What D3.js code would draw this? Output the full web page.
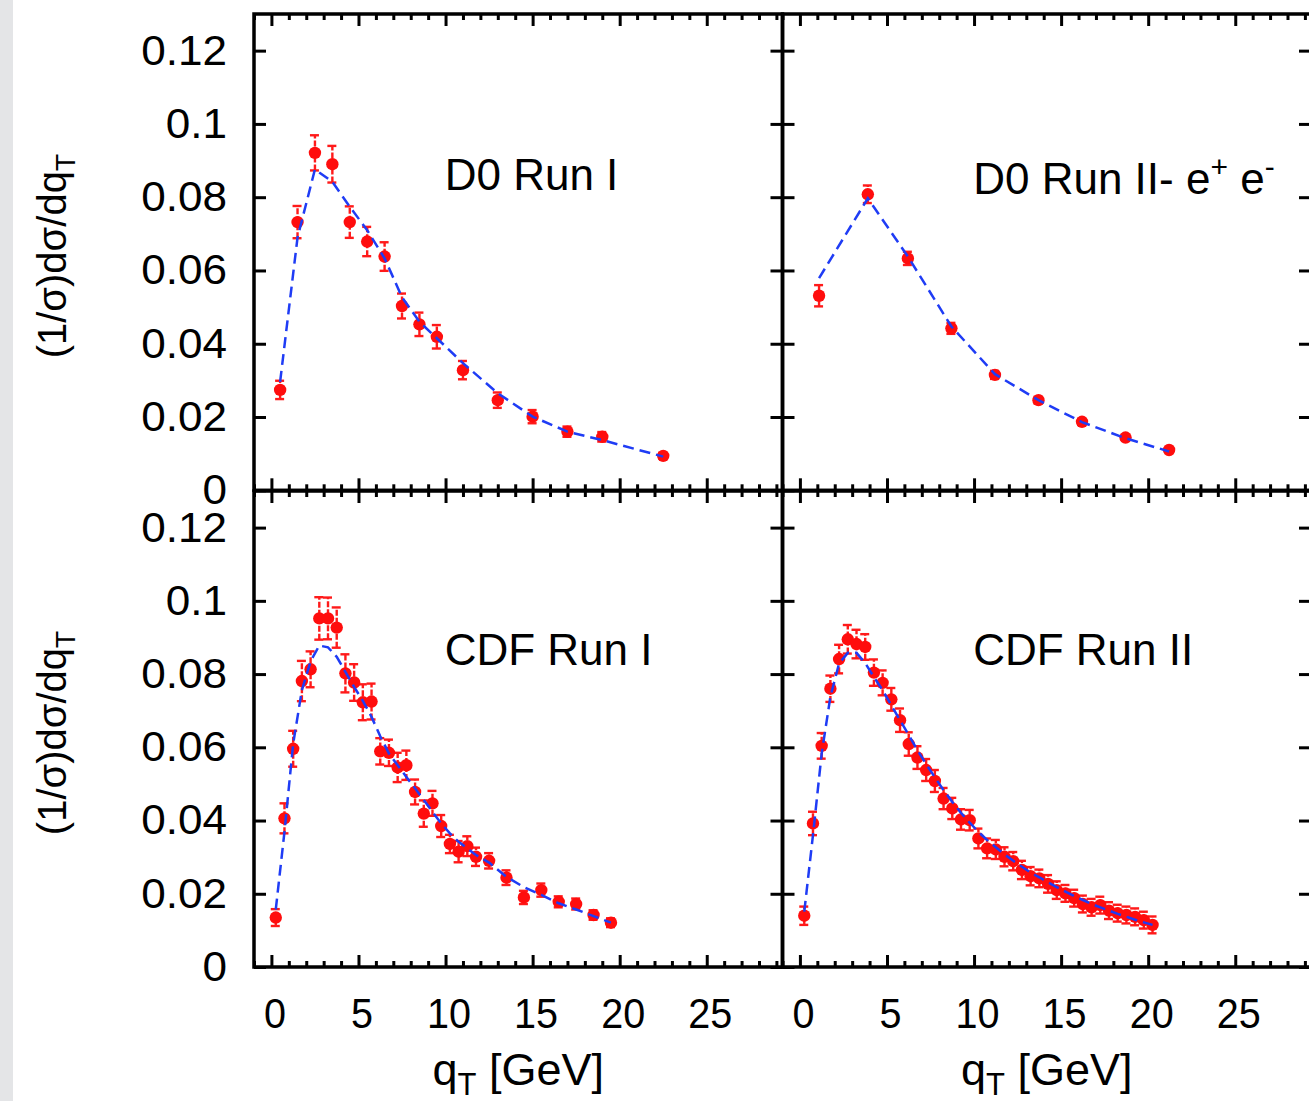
<!DOCTYPE html>
<html>
<head>
<meta charset="utf-8">
<script src="https://cdn.jsdelivr.net/npm/d3@7"></script>
<style>
  body { margin: 0; background: #fff; }
  svg { display: block; }
  text { font-family: "Liberation Sans", Arial, Helvetica, sans-serif; fill: #000; }
</style>
</head>
<body>
<svg id="chart" width="1309" height="1101"></svg>
<script>
// ---- data ----

// D0 Run I
var d0r1Q   = [0.5, 1.5, 2.5, 3.5, 4.5, 5.5, 6.5, 7.5, 8.5, 9.5, 11, 13, 15, 17, 19, 22.5];
var d0r1Val = [0.0274, 0.0732, 0.0921, 0.0890, 0.0732, 0.0679, 0.0638, 0.0503, 0.0453, 0.0419, 0.0328, 0.0246, 0.0201, 0.0160, 0.0146, 0.0094];
var d0r1Err = [0.0025, 0.0044, 0.0048, 0.0050, 0.0043, 0.0040, 0.0039, 0.0034, 0.0032, 0.0032, 0.0025, 0.0021, 0.0018, 0.0014, 0.0013, 0.0008];
var d0r1Fit = [0.0296, 0.0690, 0.0876, 0.0842, 0.0774, 0.0710, 0.0633, 0.0527, 0.0460, 0.0415, 0.0347, 0.0265, 0.0201, 0.0160, 0.0137, 0.0092];

// D0 Run II e+ e-
var d0r2Q   = [1.1, 3.9, 6.2, 8.7, 11.2, 13.7, 16.2, 18.7, 21.2];
var d0r2Val = [0.0531, 0.0808, 0.0633, 0.0442, 0.0315, 0.0246, 0.0187, 0.0144, 0.0110];
var d0r2Err = [0.0029, 0.0024, 0.0018, 0.0015, 0.0011, 0.0009, 0.0008, 0.0006, 0.0005];
var d0r2Fit = [0.0579, 0.0797, 0.0638, 0.0447, 0.0317, 0.0246, 0.0186, 0.0142, 0.0106];

// CDF Run I
var cdf1Q   = [0.25, 0.75, 1.25, 1.75, 2.25, 2.75, 3.25, 3.75, 4.25, 4.75, 5.25, 5.75,
               6.25, 6.75, 7.25, 7.75, 8.25, 8.75, 9.25, 9.75, 10.25, 10.75, 11.25, 11.75,
               12.5, 13.5, 14.5, 15.5, 16.5, 17.5, 18.5, 19.5];
var cdf1Val = [0.0135, 0.0406, 0.0596, 0.0781, 0.0813, 0.0952, 0.0952, 0.0927, 0.0802, 0.0777, 0.0723, 0.0725,
               0.0589, 0.0585, 0.0545, 0.0551, 0.0478, 0.0419, 0.0447, 0.0385, 0.0336, 0.0315, 0.0330, 0.0301,
               0.0290, 0.0244, 0.0190, 0.0210, 0.0178, 0.0172, 0.0142, 0.0121];
var cdf1Err = [0.0023, 0.0041, 0.0049, 0.0055, 0.0049, 0.0058, 0.0057, 0.0055, 0.0052, 0.0050, 0.0049, 0.0049,
               0.0036, 0.0036, 0.0040, 0.0040, 0.0034, 0.0036, 0.0034, 0.0030, 0.0025, 0.0029, 0.0027, 0.0025,
               0.0021, 0.0020, 0.0018, 0.0018, 0.0015, 0.0015, 0.0013, 0.0012];
var cdf1Fit = [0.0157, 0.0369, 0.0610, 0.0756, 0.0835, 0.0878, 0.0873, 0.0847, 0.0806, 0.0765, 0.0727, 0.0683,
               0.0630, 0.0583, 0.0551, 0.0519, 0.0488, 0.0456, 0.0424, 0.0392, 0.0365, 0.0342, 0.0324, 0.0306,
               0.0285, 0.0246, 0.0218, 0.0197, 0.0174, 0.0157, 0.0139, 0.0121];

// CDF Run II
var cdf2Q   = [0.25, 0.75, 1.25, 1.75, 2.25, 2.75, 3.25, 3.75, 4.25, 4.75, 5.25, 5.75, 6.25, 6.75,
               7.25, 7.75, 8.25, 8.75, 9.25, 9.75, 10.25, 10.75, 11.25, 11.75, 12.25, 12.75, 13.25, 13.75,
               14.25, 14.75, 15.25, 15.75, 16.25, 16.75, 17.25, 17.75, 18.25, 18.75, 19.25, 19.75, 20.25];
var cdf2Val = [0.0140, 0.0392, 0.0604, 0.0760, 0.0841, 0.0895, 0.0882, 0.0874, 0.0804, 0.0776, 0.0731, 0.0674, 0.0609, 0.0572,
               0.0538, 0.0508, 0.0460, 0.0433, 0.0403, 0.0401, 0.0351, 0.0324, 0.0321, 0.0301, 0.0289, 0.0265, 0.0248, 0.0242,
               0.0227, 0.0210, 0.0201, 0.0188, 0.0172, 0.0163, 0.0169, 0.0154, 0.0147, 0.0142, 0.0137, 0.0128, 0.0115];
var cdf2Err = [0.0025, 0.0032, 0.0035, 0.0036, 0.0039, 0.0039, 0.0039, 0.0035, 0.0036, 0.0034, 0.0031, 0.0032, 0.0032, 0.0031,
               0.0030, 0.0030, 0.0029, 0.0029, 0.0028, 0.0028, 0.0027, 0.0027, 0.0026, 0.0026, 0.0025, 0.0025, 0.0025, 0.0024,
               0.0024, 0.0024, 0.0023, 0.0023, 0.0023, 0.0023, 0.0023, 0.0023, 0.0023, 0.0023, 0.0023, 0.0023, 0.0023];
var cdf2Fit = [0.0151, 0.0360, 0.0583, 0.0738, 0.0829, 0.0858, 0.0858, 0.0830, 0.0792, 0.0756, 0.0715, 0.0674, 0.0633, 0.0592,
               0.0554, 0.0518, 0.0483, 0.0451, 0.0421, 0.0394, 0.0369, 0.0347, 0.0327, 0.0308, 0.0290, 0.0274, 0.0258, 0.0245,
               0.0231, 0.0218, 0.0206, 0.0194, 0.0183, 0.0172, 0.0163, 0.0154, 0.0145, 0.0137, 0.0129, 0.0122, 0.0115];

// ticks
var yTicks      = [0, 0.02, 0.04, 0.06, 0.08, 0.1, 0.12];
var yTickLabels = ["0", "0.02", "0.04", "0.06", "0.08", "0.1", "0.12"];
var xMajor      = [0, 5, 10, 15, 20, 25];
var xTickLabels = ["0", "5", "10", "15", "20", "25"];

var xDomain = [-1, 29.35];
var yDomain = [0, 0.13];

// ---- layout ----
var colRange = [[254, 782.5], [782.5, 1311]];
var rowRange = [[490.3, 14], [967, 491]];
var xMinor = d3.range(-1, 30).filter(function(v) { return v % 5 !== 0; });

var svg = d3.select("#chart");
svg.append("rect").attr("width", 1309).attr("height", 1101).attr("fill", "#fff");
// slide background strip on the left edge
svg.append("rect").attr("x", 0).attr("y", 0).attr("width", 13).attr("height", 1101).attr("fill", "#e4e5e7");

var panels = [
  {label: "D0 Run I",   q: d0r1Q, val: d0r1Val, err: d0r1Err, fit: d0r1Fit, col: 0, row: 0, ly: 0.082},
  {label: "D0 Run II- e", q: d0r2Q, val: d0r2Val, err: d0r2Err, fit: d0r2Fit, col: 1, row: 0, ly: 0.081, sup: true},
  {label: "CDF Run I",  q: cdf1Q, val: cdf1Val, err: cdf1Err, fit: cdf1Fit, col: 0, row: 1, ly: 0.0825},
  {label: "CDF Run II", q: cdf2Q, val: cdf2Val, err: cdf2Err, fit: cdf2Fit, col: 1, row: 1, ly: 0.0825}
];

function tickGroup(g, axis, tx, ty, vals, size) {
  g.append("g")
    .attr("transform", "translate(" + tx + "," + ty + ")")
    .call(axis.tickValues(vals).tickSize(size).tickFormat(""))
    .call(function(s) {
      s.select(".domain").remove();
      s.selectAll("line").attr("stroke", "#000").attr("stroke-width", 3);
    });
}

panels.forEach(function(p) {
  var xr = colRange[p.col], yr = rowRange[p.row];
  var x = d3.scaleLinear().domain(xDomain).range(xr);
  var y = d3.scaleLinear().domain(yDomain).range(yr);
  var g = svg.append("g");

  // inward ticks on all four sides
  tickGroup(g, d3.axisBottom(x), 0, yr[0], xMajor, -12);
  tickGroup(g, d3.axisBottom(x), 0, yr[0], xMinor, -6);
  tickGroup(g, d3.axisTop(x), 0, yr[1], xMajor, -12);
  tickGroup(g, d3.axisTop(x), 0, yr[1], xMinor, -6);
  tickGroup(g, d3.axisLeft(y), xr[0], 0, yTicks, -12);
  tickGroup(g, d3.axisRight(y), xr[1], 0, yTicks, -12);

  g.append("rect")
    .attr("x", xr[0]).attr("y", yr[1])
    .attr("width", xr[1] - xr[0]).attr("height", yr[0] - yr[1])
    .attr("fill", "none").attr("stroke", "#000").attr("stroke-width", 3.5);

  var pts = d3.zip(p.q, p.val, p.err);

  // error bars
  var eb = g.append("g").attr("stroke", "#ff1a1a").attr("stroke-width", 2.4).attr("fill", "none");
  eb.selectAll("line.v").data(pts).enter().append("line")
    .attr("x1", function(d) { return x(d[0]); }).attr("x2", function(d) { return x(d[0]); })
    .attr("y1", function(d) { return y(d[1] - d[2]); }).attr("y2", function(d) { return y(d[1] + d[2]); })
    .attr("stroke-dasharray", "6,2");
  eb.selectAll("line.t").data(pts).enter().append("line")
    .attr("x1", function(d) { return x(d[0]) - 5; }).attr("x2", function(d) { return x(d[0]) + 4; })
    .attr("y1", function(d) { return y(d[1] + d[2]); }).attr("y2", function(d) { return y(d[1] + d[2]); });
  eb.selectAll("line.b").data(pts).enter().append("line")
    .attr("x1", function(d) { return x(d[0]) - 5; }).attr("x2", function(d) { return x(d[0]) + 4; })
    .attr("y1", function(d) { return y(d[1] - d[2]); }).attr("y2", function(d) { return y(d[1] - d[2]); });

  // data points
  g.selectAll("circle").data(pts).enter().append("circle")
    .attr("cx", function(d) { return x(d[0]); })
    .attr("cy", function(d) { return y(d[1]); })
    .attr("r", 6.2)
    .attr("fill", "#ff0d0d");

  // theory curve
  var line = d3.line().x(function(d) { return x(d[0]); }).y(function(d) { return y(d[1]); });
  g.append("path").datum(d3.zip(p.q, p.fit))
    .attr("d", line)
    .attr("fill", "none").attr("stroke", "#1f3cf5")
    .attr("stroke-width", 2.5).attr("stroke-dasharray", "11,6");

  // panel label
  var t = g.append("text")
    .attr("x", x(9.95)).attr("y", y(p.ly))
    .style("font-size", "44px")
    .text(p.label);
  if (p.sup) {
    t.append("tspan").attr("dy", -17).style("font-size", "30px").text("+");
    t.append("tspan").attr("dy", 17).text(" e");
    t.append("tspan").attr("dy", -17).style("font-size", "30px").text("-");
  }

  // y tick labels (left column only)
  if (p.col === 0) {
    g.append("g")
      .attr("transform", "translate(" + xr[0] + ",0)")
      .call(d3.axisLeft(y).tickValues(yTicks).tickSize(0).tickPadding(27)
        .tickFormat(function(d, i) { return yTickLabels[i]; }))
      .call(function(s) {
        s.select(".domain").remove();
        s.selectAll("text").attr("font-family", null).attr("font-size", null)
          .style("font-size", "42px")
          .each(function() {
            var w = this.getComputedTextLength();
            d3.select(this).attr("textLength", w * 1.05).attr("lengthAdjust", "spacingAndGlyphs");
          });
      });

    // y axis title
    var ty = (yr[0] + yr[1]) / 2 + 4;
    var yt = g.append("text")
      .attr("transform", "translate(66," + ty + ") rotate(-90)")
      .attr("text-anchor", "middle")
      .style("font-size", "40px")
      .text("(1/\u03c3)d\u03c3/dq");
    yt.append("tspan").attr("dy", 9).style("font-size", "28px").text("T");
  }

  // x tick labels and title (bottom row only)
  if (p.row === 1) {
    g.append("g")
      .attr("transform", "translate(3," + yr[0] + ")")
      .call(d3.axisBottom(x).tickValues(xMajor).tickSize(0).tickPadding(30)
        .tickFormat(function(d, i) { return xTickLabels[i]; }))
      .call(function(s) {
        s.select(".domain").remove();
        s.selectAll("text").attr("font-family", null).attr("font-size", null)
          .style("font-size", "43px")
          .each(function() {
            var w = this.getComputedTextLength();
            d3.select(this).attr("textLength", w * 0.92).attr("lengthAdjust", "spacingAndGlyphs");
          });
      });

    var xt = g.append("text")
      .attr("x", (xr[0] + xr[1]) / 2).attr("y", 1085)
      .attr("text-anchor", "middle")
      .style("font-size", "45px");
    xt.append("tspan").text("q");
    xt.append("tspan").attr("dy", 10).style("font-size", "31px").text("T");
    xt.append("tspan").attr("dy", -10).text(" [GeV]");
  }
});
</script>
</body>
</html>
